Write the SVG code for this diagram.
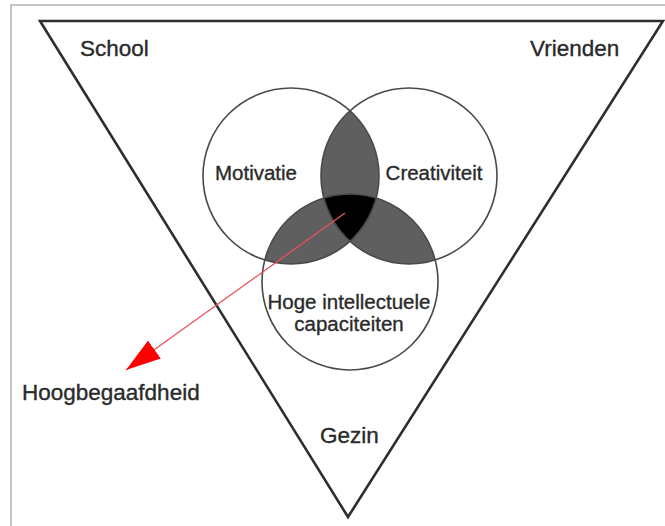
<svg xmlns="http://www.w3.org/2000/svg" width="665" height="526" viewBox="0 0 665 526">
<style>
  .lbl { font-family: "Liberation Sans", Arial, sans-serif; fill: #2a2a2a; stroke: #2a2a2a; stroke-width: 0.35; }
  .outer { font-size: 22.5px; }
  .inner { font-size: 20.5px; }
  .ring { fill: none; stroke: #4a4a4a; stroke-width: 1.6; }
  .lens { fill: #5f5f5f; }
</style>
<defs>
  <clipPath id="c1"><circle cx="291" cy="176" r="88"/></clipPath>
  <clipPath id="c2"><circle cx="409" cy="176" r="88"/></clipPath>
  <marker id="ah" markerWidth="36" markerHeight="22" refX="35" refY="11" orient="auto" markerUnits="userSpaceOnUse">
    <path d="M0,0 L35,11 L0,22 Z" fill="#ff0000"/>
  </marker>
</defs>
<rect width="665" height="526" fill="#ffffff"/>
<rect x="11" y="5" width="700" height="600" fill="none" stroke="#c4c4c4" stroke-width="2"/>

<g id="triangle">
  <path d="M40,21 L663,21 L348,517 Z" fill="none" stroke="#2e2e2e" stroke-width="2.6" stroke-linejoin="miter"/>
  <text class="lbl outer" x="80" y="56">School</text>
  <text class="lbl outer" x="530" y="56">Vrienden</text>
  <text class="lbl outer" x="320" y="443">Gezin</text>
</g>

<g id="overlaps">
  <circle class="lens" cx="409" cy="176" r="88" clip-path="url(#c1)"/>
  <circle class="lens" cx="350" cy="282" r="88" clip-path="url(#c1)"/>
  <circle class="lens" cx="350" cy="282" r="88" clip-path="url(#c2)"/>
  <g clip-path="url(#c1)"><circle cx="350" cy="282" r="88" fill="#000000" clip-path="url(#c2)"/></g>
</g>

<g id="motivatie">
  <circle class="ring" cx="291" cy="176" r="88"/>
  <text class="lbl inner" x="256" y="180" text-anchor="middle">Motivatie</text>
</g>
<g id="creativiteit">
  <circle class="ring" cx="409" cy="176" r="88"/>
  <text class="lbl inner" x="434" y="180" text-anchor="middle">Creativiteit</text>
</g>
<g id="capaciteiten">
  <circle class="ring" cx="350" cy="282" r="88"/>
  <text class="lbl inner" x="349" y="309" text-anchor="middle">Hoge intellectuele</text>
  <text class="lbl inner" x="349" y="331" text-anchor="middle">capaciteiten</text>
</g>

<g id="hoogbegaafdheid">
  <text class="lbl outer" x="22" y="400">Hoogbegaafdheid</text>
</g>

<g id="connectors">
  <line x1="345" y1="213" x2="126" y2="370" stroke="#e8505a" stroke-width="1.3" marker-end="url(#ah)"/>
</g>
</svg>
